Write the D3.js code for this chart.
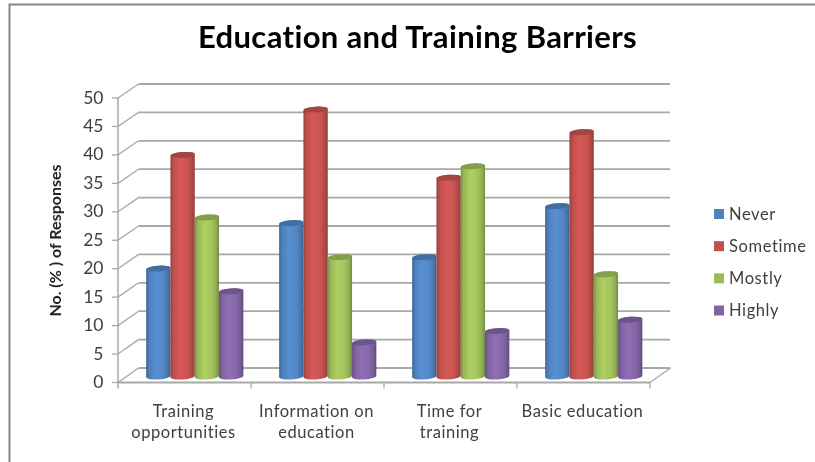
<!DOCTYPE html>
<html><head><meta charset="utf-8">
<script src="https://cdn.jsdelivr.net/npm/d3@7"></script>
<style>html,body{margin:0;padding:0;background:#fff}svg{display:block}text{font-family:Lato,"Open Sans",sans-serif;font-variant-ligatures:none}</style>
</head><body><div id="chart"></div>
<script>
const title = "Education and Training Barriers";
const yTitle = "No. (% ) of Responses";
const categories = ["Training opportunities","Information on education","Time for training","Basic education"];
const categoryLines = [["Training","opportunities"],["Information on","education"],["Time for","training"],["Basic education"]];
const seriesNames = ["Never","Sometime","Mostly","Highly"];
const never = [19,27,21,30];
const sometime = [39,47,35,43];
const mostly = [28,21,37,18];
const highly = [15,6,8,10];
const seriesValues = [never,sometime,mostly,highly];
const colors = ["#4F81BD","#C0504D","#9BBB59","#8064A2"];
const yTicks = [0,5,10,15,20,25,30,35,40,45,50];

const W=815,H=462;
const svg=d3.select("#chart").append("svg").attr("width",W).attr("height",H);
const defs=svg.append("defs");
defs.append("filter").attr("id","soft").attr("x","-5%").attr("y","-5%").attr("width","110%").attr("height","110%")
  .append("feGaussianBlur").attr("stdDeviation",0.45);
const root=svg.append("g").attr("filter","url(#soft)");

// chart frame (top and left edges only)
root.append("path").attr("d",`M815,4.5H9.5V462`).attr("fill","none").attr("stroke","#858585").attr("stroke-width",2);

root.append("text").attr("x",417.5).attr("y",48).attr("text-anchor","middle")
  .attr("font-size",31).attr("letter-spacing",0.35).attr("font-weight",700).attr("fill","#000").text(title);

const depthX=20.5;
const x=d3.scaleBand().domain(categories).range([118,650]);
const yFront=d3.scaleLinear().domain([0,50]).range([382.5,98]);
const yBack=d3.scaleLinear().domain([0,50]).range([368,84]);
const yBar=d3.scaleLinear().domain([0,50]).range([376.5,92.5]);
const xL=x.range()[0], xR=x.range()[1];

const grid="#a8a8a8";
const g=root.append("g").attr("fill","none").attr("stroke",grid);
// back wall gridlines and left wall diagonals
yTicks.forEach(t=>{
  g.append("line").attr("x1",xL+depthX).attr("x2",xR+depthX-0.5).attr("y1",yBack(t)).attr("y2",yBack(t)).attr("stroke-width",1.8);
  g.append("line").attr("x1",xL).attr("x2",xL+depthX).attr("y1",yFront(t)).attr("y2",yBack(t)).attr("stroke-width",1.3);
  g.append("line").attr("x1",xL-6).attr("x2",xL).attr("y1",yFront(t)).attr("y2",yFront(t)).attr("stroke-width",1.3);
});
// front axis lines, floor edge
g.append("line").attr("x1",xL).attr("x2",xL).attr("y1",yFront(50)).attr("y2",yFront(0)+6).attr("stroke-width",1.5);
g.append("line").attr("x1",xL).attr("x2",xR).attr("y1",yFront(0)).attr("y2",yFront(0)).attr("stroke-width",1.8);
g.append("line").attr("x1",xR).attr("x2",xR+depthX).attr("y1",yFront(0)).attr("y2",yBack(0)).attr("stroke-width",1.3);
categories.forEach(c=>{
  const px=x(c)+x.bandwidth();
  g.append("line").attr("x1",px).attr("x2",px).attr("y1",yFront(0)).attr("y2",yFront(0)+6).attr("stroke-width",1.3);
});

// y tick labels
root.append("g").selectAll("text").data(yTicks).join("text")
  .attr("x",103.5).attr("y",d=>yFront(d)+5.5).attr("text-anchor","end")
  .attr("font-size",17.5).attr("fill","#404040").text(d=>d);

// y title
root.append("text").attr("transform","translate(61,240.5) rotate(-90)").attr("text-anchor","middle")
  .attr("font-size",16).attr("font-weight",700).attr("fill","#222").text(yTitle);

// x labels
categories.forEach((c,i)=>{
  const t=root.append("text").attr("text-anchor","middle").attr("font-size",16.5).attr("fill","#404040").attr("letter-spacing",0.55);
  categoryLines[i].forEach((line,j)=>{
    t.append("tspan").attr("x",x(c)+x.bandwidth()/2-1).attr("y",417+j*21).text(line);
  });
});

// gradients for cylinders
colors.forEach((col,i)=>{
  const base=d3.color(col);
  const gr=defs.append("linearGradient").attr("id","cyl"+i).attr("x1",0).attr("x2",1).attr("y1",0).attr("y2",0);
  [[0,base.darker(0.7)],[0.12,base.darker(0.05)],[0.4,base.brighter(0.3)],[0.72,base.brighter(0.12)],[0.9,base.darker(0.3)],[1,base.darker(0.85)]]
    .forEach(([o,c])=>gr.append("stop").attr("offset",o).attr("stop-color",c));
});

// cylinders
const x1=d3.scaleBand().domain(seriesNames).range([0,97.2]);
const groupShift=(x.bandwidth()-x1.range()[1])/2+depthX/2;
const tilt=-4, ry=2.9;
const slope=Math.sin(tilt*Math.PI/180);
seriesNames.forEach((s,si)=>{
  const layer=root.append("g");
  categories.forEach((c,ci)=>{
    const v=seriesValues[si][ci];
    const l=x(c)+groupShift+x1(s), w=x1.bandwidth(), r=w/2;
    const cx=l+r, top=yBar(v), bot=yBar(0);
    const dy=r*slope; // tilt offset at the edges
    const a=`A${r},${ry} ${tilt} 0 0 `;
    layer.append("path")
      .attr("d",`M${l},${top-dy}L${l},${bot-dy}${a}${l+w},${bot+dy}L${l+w},${top+dy}${a}${l},${top-dy}Z`)
      .attr("fill",`url(#cyl${si})`);
    layer.append("ellipse")
      .attr("cx",0).attr("cy",0).attr("rx",r).attr("ry",ry)
      .attr("transform",`translate(${cx},${top}) rotate(${tilt})`)
      .attr("fill",d3.color(colors[si]).darker(0.45));
  });
});

// legend
const legendY=d3.scalePoint().domain(seriesNames).range([214,310.5]);
seriesNames.forEach((s,i)=>{
  root.append("rect").attr("x",714).attr("y",legendY(s)-5).attr("width",10).attr("height",10).attr("fill",colors[i]);
  root.append("text").attr("x",729).attr("y",legendY(s)+5.5).attr("font-size",16.5).attr("fill","#404040")
    .attr("letter-spacing",0.6).text(s);
});
</script></body></html>
